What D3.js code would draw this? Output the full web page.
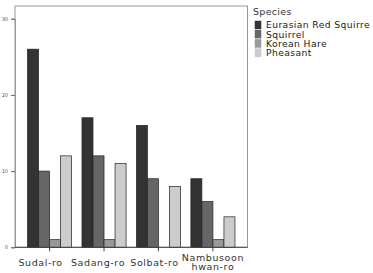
<!DOCTYPE html>
<html>
<head>
<meta charset="utf-8">
<script src="https://cdn.jsdelivr.net/npm/d3@7"></script>
<style>
  body { margin: 0; background: #fff; }
  svg { display: block; font-family: "DejaVu Sans", sans-serif; }
</style>
</head>
<body>
<div id="chart"></div>
<script>
// Data
var categories = ["Sudal-ro", "Sadang-ro", "Solbat-ro", "Nambusoon hwan-ro"],
    species = ["Eurasian Red Squirre", "Squirrel", "Korean Hare", "Pheasant"],
    speciesColors = ["#333333", "#666666", "#999999", "#cccccc"],
    eurasianRed = [26, 17, 16, 9],
    squirrel = [10, 12, 9, 6],
    koreanHare = [1, 1, 0, 1],
    pheasant = [12, 11, 8, 4],
    yTicks = [0, 10, 20, 30];

var seriesValues = [eurasianRed, squirrel, koreanHare, pheasant];

var plot = { left: 15, right: 247.5, top: 6, bottom: 247.3 };

// the category labels in the original sit a little left of their ticks
var labelShift = [-9, -6, -4, 0];

var svg = d3.select("#chart").append("svg")
    .attr("width", 373)
    .attr("height", 273);

// scales
var x0 = d3.scaleBand()
    .domain(categories)
    .range([plot.left, plot.right])
    .paddingInner(0.19)
    .paddingOuter(0.23);

var x1 = d3.scaleBand()
    .domain(species)
    .range([0, x0.bandwidth()]);

var y = d3.scaleLinear()
    .domain([0, 30])
    .range([plot.bottom, plot.bottom - 3 * 76.2]);

// frame
svg.append("rect")
    .attr("x", plot.left)
    .attr("y", plot.top)
    .attr("width", plot.right - plot.left)
    .attr("height", plot.bottom - plot.top)
    .attr("fill", "none")
    .attr("stroke", "#999")
    .attr("stroke-width", 1);

// bars
var groups = svg.selectAll(".grp")
    .data(categories)
    .enter().append("g")
    .attr("class", "grp")
    .attr("transform", function (d) { return "translate(" + x0(d) + ",0)"; });

groups.selectAll("rect")
    .data(function (d, i) {
        return species.map(function (s, j) { return { s: s, v: seriesValues[j][i], c: speciesColors[j] }; });
    })
    .enter().append("rect")
    .filter(function (d) { return d.v > 0; })
    .attr("x", function (d) { return x1(d.s); })
    .attr("y", function (d) { return y(d.v); })
    .attr("width", x1.bandwidth())
    .attr("height", function (d) { return y(0) - y(d.v); })
    .attr("fill", function (d) { return d.c; })
    .attr("stroke", "#222")
    .attr("stroke-width", 0.7);

// y-axis
var yAxis = d3.axisLeft(y).tickValues(yTicks).tickSize(4).tickPadding(3);
var yg = svg.append("g")
    .attr("transform", "translate(" + plot.left + ",0)")
    .call(yAxis);
yg.select(".domain").attr("stroke", "#999");
yg.selectAll(".tick line").attr("stroke", "#666");
yg.selectAll(".tick text")
    .attr("font-size", 5)
    .attr("fill", "#555")
    .attr("font-family", "DejaVu Sans");

// x-axis
var xAxis = d3.axisBottom(x0).tickSize(4).tickSizeOuter(0).tickFormat("");
var xg = svg.append("g")
    .attr("transform", "translate(0," + plot.bottom + ")")
    .call(xAxis);
xg.select(".domain").attr("stroke", "#444").attr("d", "M" + plot.left + ",0H" + plot.right);
xg.selectAll(".tick line").attr("stroke", "#444");

// category labels, wrapped on spaces
xg.selectAll(".tick").each(function (d, k) {
    var words = d.split(" ");
    var t = d3.select(this).append("text")
        .attr("fill", "#333")
        .attr("font-size", 9.5)
        .attr("letter-spacing", 0.6)
        .attr("text-anchor", "middle")
        .attr("font-family", "DejaVu Sans");
    var startY = words.length > 1 ? 14 : 19;
    words.forEach(function (w, i) {
        t.append("tspan").attr("x", labelShift[k]).attr("y", startY + i * 8.5).text(w);
    });
});

// legend
var legend = svg.append("g").attr("transform", "translate(253,0)");
legend.append("text")
    .attr("x", 0)
    .attr("y", 15)
    .attr("font-size", 9.5)
    .attr("fill", "#333")
    .attr("letter-spacing", 0.3)
    .text("Species");

var items = legend.selectAll(".item")
    .data(species)
    .enter().append("g")
    .attr("class", "item")
    .attr("transform", function (d, i) { return "translate(0," + (20.5 + i * 9.2) + ")"; });

items.append("rect")
    .attr("x", 1.5)
    .attr("y", 0)
    .attr("width", 7)
    .attr("height", 9.2)
    .attr("fill", function (d, i) { return speciesColors[i]; })
    .attr("stroke", "#fff")
    .attr("stroke-width", 0.5);

items.append("text")
    .attr("x", 13)
    .attr("y", 7.8)
    .attr("font-size", 9.2)
    .attr("fill", "#222")
    .attr("letter-spacing", 0.4)
    .text(function (d) { return d; });
</script>
</body>
</html>
